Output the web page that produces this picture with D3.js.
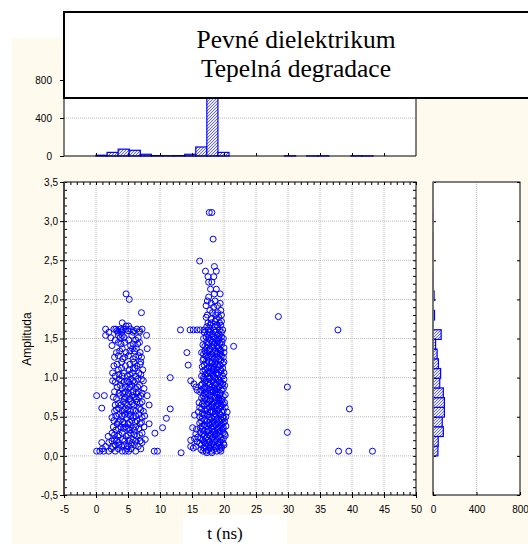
<!DOCTYPE html>
<html>
<head>
<meta charset="utf-8">
<script src="https://cdn.jsdelivr.net/npm/d3@7"></script>
<style>
  body { margin: 0; background: #fff; }
  svg { display: block; }
  .lab { font-family: "Liberation Sans", Arial, sans-serif; font-size: 10px; fill: #000; }
</style>
</head>
<body>
<svg width="528" height="544"></svg>
<script>
// ---- data ----
const timeTicks = [-5, 0, 5, 10, 15, 20, 25, 30, 35, 40, 45, 50];
const ampTicks = [-0.5, 0, 0.5, 1, 1.5, 2, 2.5, 3, 3.5];
const countTicks = [0, 400, 800];

// histogram of t (25 bins from 0)
const topBinWidth = 1.732;
const topHistCounts = [8, 38, 72, 60, 18, 4, 3, 4, 18, 95, 720, 38, 0, 0, 0, 0, 0, 2, 0, 1, 2, 0, 0, 2, 1];

// histogram of amplitude (25 bins from 0)
const sideBinWidth = 0.124;
const sideHistCounts = [45, 48, 95, 85, 105, 105, 95, 62, 70, 50, 38, 24, 75, 2, 14, 0, 10, 1, 1, 0, 1, 1, 1, 0, 2];

// scatter rows: [amplitude, [t values]]
const cluster1Rows = [
  [2.07, [4.7]], [2.00, [5.2]], [1.83, [7.1]], [1.70, [4.1]], [1.66, [4.7, 5.1]],
  [1.62, [1.5, 2.8, 3.1, 3.8, 4.3, 4.7, 5.4, 6.4, 7.2]], [1.60, [3.3, 4.0, 5.0, 5.9, 6.8]],
  [1.58, [2.0, 3.4, 4.0, 5.8, 6.8]], [1.54, [1.5, 3.5, 4.1, 5.6, 7.9]], [1.51, [2.3, 3.8, 4.4, 6.6]],
  [1.48, [3.0, 5.1, 6.2]], [1.45, [3.5, 4.5, 6.8]], [1.43, [3.9, 5.8, 6.5]], [1.41, [2.5, 5.4]],
  [1.37, [4.1, 5.7, 6.3, 8.0]], [1.34, [3.7, 5.3, 6.0]], [1.32, [3.2, 4.7, 6.9]],
  [1.28, [3.5, 5.1, 6.7]], [1.26, [2.9, 4.5, 6.2, 7.1]],
  [1.24, [4.2, 5.8]], [1.20, [4.0, 5.9, 7.0]], [1.17, [3.3, 5.3, 6.9]], [1.15, [2.8, 4.6, 6.4]],
  [1.12, [4.0, 5.8, 6.1]], [1.10, [3.5, 5.2, 7.3]], [1.06, [2.6, 4.3, 5.7, 6.7]],
  [1.04, [3.6, 5.3, 7.0]], [1.02, [3.0, 4.1, 4.9, 6.2]],
  [0.98, [3.6, 5.4, 6.5, 7.1]], [0.96, [2.6, 4.0, 4.8, 5.8, 7.4]], [0.94, [3.0, 4.4, 5.1, 6.0]],
  [0.90, [3.8, 5.6, 6.8]], [0.88, [3.3, 4.6, 5.3, 6.5]],
  [0.86, [4.1, 5.1, 6.2, 7.5]], [0.82, [2.9, 4.6, 5.8, 6.6]], [0.80, [3.6, 4.2, 5.1, 6.3, 7.2]],
  [0.77, [0.1, 1.3, 3.8, 4.9, 5.7, 7.0, 8.0]], [0.75, [2.7, 4.6, 6.0, 6.7]], [0.73, [3.2, 4.4, 5.3, 6.3]],
  [0.69, [4.3, 5.4, 6.4, 7.2]], [0.67, [3.5, 4.6, 5.7, 6.9]], [0.65, [3.0, 3.9, 4.9, 5.9, 8.3]],
  [0.61, [0.9, 3.5, 4.6, 6.8]], [0.59, [3.2, 4.4, 5.0, 5.8, 7.0]], [0.57, [2.9, 4.1, 5.4, 6.2, 7.4]],
  [0.53, [3.6, 4.5, 5.1, 6.7]], [0.51, [3.1, 4.1, 5.4, 6.2, 7.6]], [0.49, [2.5, 4.8, 5.8, 7.2]],
  [0.45, [2.8, 3.8, 5.6, 6.4]], [0.43, [3.5, 4.2, 5.3, 6.1, 7.1]], [0.41, [3.3, 4.4, 5.0, 6.9, 8.3]],
  [0.37, [2.7, 3.9, 4.6, 6.2, 7.5]], [0.35, [3.5, 4.3, 5.0, 5.7, 6.7]], [0.33, [3.1, 5.3, 6.0]],
  [0.29, [2.5, 4.1, 5.4, 7.2, 9.2]], [0.27, [2.9, 3.6, 5.0, 6.0, 6.8]], [0.25, [1.9, 3.4, 4.7, 6.4]],
  [0.21, [2.9, 4.2, 5.8, 7.7]], [0.19, [2.5, 3.2, 4.5, 5.2, 6.2, 6.9]], [0.17, [0.9, 2.0, 3.5, 5.6, 7.2]],
  [0.14, [3.0, 3.6, 4.4, 5.5, 6.0]], [0.12, [1.5, 2.6, 4.0, 4.9, 6.6]], [0.09, [1.0, 2.4, 3.5, 4.8, 5.5, 7.0]],
  [0.06, [0.1, 0.6, 1.2, 2.0, 3.0, 4.1, 4.6, 5.1, 6.2, 9.1, 9.6]]
];

const cluster2Rows = [
  [3.11, [17.7, 18.1]], [2.77, [18.3]], [2.49, [16.2]], [2.42, [18.5]],
  [2.36, [17.1, 18.8]], [2.29, [17.5, 18.4]], [2.22, [17.6, 18.1]],
  [2.13, [17.9, 18.8]], [2.07, [18.5, 19.4]], [2.03, [17.6]], [1.98, [17.4, 18.6]],
  [1.95, [18.0, 19.4]], [1.92, [17.2, 19.0]], [1.90, [18.4]], [1.86, [17.8, 19.5]], [1.83, [18.2, 19.0]],
  [1.80, [17.4, 18.7, 19.6]], [1.77, [17.2, 19.2]], [1.75, [18.0, 18.8]], [1.72, [18.6, 19.6]],
  [1.70, [17.5, 18.0, 19.3]], [1.67, [17.8, 18.9, 19.5]], [1.65, [17.3, 18.5, 19.0]],
  [1.61, [13.2, 14.7, 15.2, 15.8, 16.3, 16.9, 17.5, 17.9, 18.5, 19.3, 19.8]],
  [1.58, [16.9, 17.8, 18.7, 19.6]], [1.56, [17.4, 18.2, 19.1]], [1.54, [17.7, 18.9, 19.3]],
  [1.52, [17.2, 18.3, 19.6]], [1.50, [16.8, 17.6, 18.6, 19.2, 19.9]], [1.48, [17.9, 18.8]],
  [1.46, [17.3, 18.2, 19.0, 19.7]], [1.44, [17.6, 18.5, 19.3]], [1.42, [16.7, 17.4, 18.4, 19.6]],
  [1.40, [17.0, 18.1, 18.9, 21.5]], [1.38, [17.3, 18.4, 19.1, 20.0]], [1.36, [17.8, 19.4]],
  [1.34, [17.0, 17.7, 18.7, 19.5]], [1.32, [14.2, 16.5, 17.3, 18.3, 19.0, 20.0]],
  [1.30, [16.8, 18.0, 18.9, 19.4]], [1.28, [17.2, 17.9, 19.6]], [1.26, [17.6, 18.2, 19.0, 19.9]],
  [1.24, [16.8, 18.5, 19.2]], [1.22, [16.7, 17.3, 18.7, 19.5]], [1.20, [17.7, 18.2, 20.0]],
  [1.18, [17.3, 18.1, 18.6, 19.8]], [1.16, [14.4, 16.9, 18.8, 19.4]], [1.14, [16.6, 17.7, 18.4, 19.1]],
  [1.12, [17.4, 18.0, 19.8]], [1.10, [17.0, 18.3, 18.9, 19.5]], [1.08, [16.7, 17.6, 18.4, 19.5]],
  [1.06, [17.3, 17.9, 18.8, 20.0]], [1.04, [17.1, 18.2, 19.0]], [1.02, [16.5, 17.5, 18.4, 19.8]],
  [1.00, [11.6, 16.8, 17.7, 18.6, 19.4]], [0.98, [16.9, 17.7, 18.7, 19.1, 20.0]],
  [0.96, [14.8, 17.2, 18.3, 19.3]], [0.94, [17.0, 17.5, 18.4, 19.5]],
  [0.92, [15.3, 16.6, 17.8, 18.8, 19.8]], [0.90, [16.4, 17.6, 18.6, 19.6, 20.1]],
  [0.88, [15.6, 17.0, 18.1, 19.2]], [0.86, [16.8, 17.4, 18.5, 18.9, 19.9]],
  [0.84, [15.8, 16.4, 17.9, 18.6, 19.6]], [0.82, [16.2, 17.2, 18.3, 19.0]],
  [0.80, [16.9, 17.5, 18.8, 19.4]], [0.78, [17.2, 17.8, 18.9, 19.4, 20.2]],
  [0.76, [16.8, 18.0, 18.4, 19.9]], [0.74, [16.5, 17.0, 18.6, 19.2]],
  [0.72, [17.3, 17.9, 19.1, 19.7]], [0.70, [16.8, 17.8, 18.9, 19.6]],
  [0.68, [16.1, 17.5, 18.4, 19.3, 20.1]], [0.66, [16.6, 17.3, 18.2, 19.1, 19.9]],
  [0.64, [16.9, 18.1, 18.8, 19.6]], [0.62, [16.2, 17.7, 18.4, 19.5, 20.2]],
  [0.60, [11.6, 16.5, 17.3, 18.6, 19.2]], [0.58, [17.1, 18.0, 18.9, 19.9]],
  [0.56, [16.0, 17.8, 18.3, 19.7, 20.5]], [0.54, [16.6, 17.3, 18.6, 19.3]],
  [0.52, [15.4, 16.9, 17.5, 18.8, 19.5]], [0.50, [16.2, 17.7, 18.5, 19.8, 20.3]],
  [0.48, [11.0, 16.6, 18.1, 19.0, 20.0]], [0.46, [17.0, 17.8, 18.8, 19.6]],
  [0.44, [16.5, 17.3, 18.4, 19.3, 20.1]], [0.42, [16.2, 17.6, 18.2, 19.0, 19.9]],
  [0.40, [16.9, 17.8, 18.7, 19.6]], [0.38, [16.6, 17.3, 18.4, 19.4, 20.3]],
  [0.36, [10.4, 15.1, 16.3, 18.0, 19.1, 19.9]], [0.34, [15.7, 16.6, 17.5, 18.2, 18.9, 19.8]],
  [0.32, [16.9, 17.6, 18.5, 19.4]], [0.30, [16.3, 17.3, 18.3, 19.2, 19.9]],
  [0.28, [15.6, 16.7, 18.0, 18.8, 20.1]], [0.26, [16.9, 17.8, 18.6, 19.3, 20.2]],
  [0.24, [15.9, 17.3, 18.3, 19.5]], [0.22, [15.4, 16.4, 17.1, 18.1, 19.0, 19.9]],
  [0.20, [14.8, 16.7, 17.5, 18.5, 19.6]], [0.18, [15.8, 16.9, 17.7, 18.6, 19.4]],
  [0.16, [16.2, 17.1, 18.1, 19.1, 19.9]], [0.14, [16.5, 17.6, 18.4, 19.3, 20.0]],
  [0.12, [14.8, 15.6, 17.2, 17.9, 18.8, 19.6]], [0.10, [15.2, 16.9, 17.8, 18.7, 19.6]],
  [0.08, [16.4, 17.5, 18.4, 19.3]], [0.06, [16.7, 17.2, 18.0, 18.9, 19.5]],
  [0.04, [13.3, 17.3, 18.1]]
];

// isolated points [t, amplitude]
const outlierPoints = [
  [28.5, 1.78], [29.9, 0.88], [29.9, 0.30], [37.8, 1.61],
  [37.9, 0.06], [39.5, 0.06], [39.6, 0.60], [43.2, 0.06]
];

const scatterPoints = cluster1Rows.concat(cluster2Rows)
  .flatMap(([a, ts]) => ts.map(t => ({t: t, a: a})))
  .concat(outlierPoints.map(([t, a]) => ({t: t, a: a})));

// ---- layout ----
const svg = d3.select("svg");
const blue = "#0000ff";
const gridColor = "#b8b8b8";
const comma = d => d3.format(".1f")(d).replace(".", ",").replace("\u2212", "-");
const plain = d => String(d);

const x = d3.scaleLinear().domain([-5, 50]).range([64, 416]);
const y = d3.scaleLinear().domain([-0.5, 3.5]).range([495, 182]);
const yTop = d3.scaleLinear().domain([0, 1200]).range([156, 42]);
const xSide = d3.scaleLinear().domain([0, 800]).range([433, 520]);

// hatch fill for histogram bars
const defs = svg.append("defs");
const pat = defs.append("pattern")
  .attr("id", "hatch")
  .attr("patternUnits", "userSpaceOnUse")
  .attr("width", 3).attr("height", 3);
pat.append("rect").attr("width", 3).attr("height", 3).attr("fill", "#eeeeff");
pat.append("path").attr("d", "M-1,1 L1,-1 M0,3 L3,0 M2,4 L4,2")
  .attr("stroke", "#5555ff").attr("stroke-width", 0.9);

// cream page background
svg.append("rect").attr("x", 12).attr("y", 38).attr("width", 516).attr("height", 506)
  .attr("fill", "#fffaee");

// ---------- top histogram ----------
const gTop = svg.append("g");
gTop.append("rect")
  .attr("x", x(-5)).attr("y", yTop(1200))
  .attr("width", x(50) - x(-5)).attr("height", yTop(0) - yTop(1200))
  .attr("fill", "#fff");

gTop.selectAll(".grid").data(countTicks.slice(1)).enter().append("line")
  .attr("x1", x(-5)).attr("x2", x(50))
  .attr("y1", d => yTop(d)).attr("y2", d => yTop(d))
  .attr("stroke", gridColor).attr("stroke-dasharray", "1,1");

const topBins = topHistCounts.map((c, i) => ({x0: i * topBinWidth, x1: (i + 1) * topBinWidth, c: c}))
  .filter(d => d.c > 0);
gTop.selectAll(".bar").data(topBins).enter().append("rect")
  .attr("x", d => x(d.x0))
  .attr("width", d => x(d.x1) - x(d.x0))
  .attr("y", d => yTop(d.c))
  .attr("height", d => yTop(0) - yTop(d.c))
  .attr("fill", "url(#hatch)")
  .attr("stroke", blue).attr("stroke-width", 1.2);

gTop.append("g")
  .attr("transform", `translate(0, ${yTop(0)})`)
  .call(d3.axisTop(x).tickValues(timeTicks.slice(1, -1)).tickSize(3).tickFormat(""))
  .call(g => g.select(".domain").remove());

gTop.append("path")
  .attr("d", `M${x(-5)},${yTop(1200)} V${yTop(0)} H${x(50)} V${yTop(1200)}`)
  .attr("fill", "none").attr("stroke", "#000");

gTop.append("g")
  .attr("transform", `translate(${x(-5)}, 0)`)
  .call(d3.axisLeft(yTop).tickValues(countTicks).tickSize(4).tickPadding(8).tickFormat(plain))
  .call(g => g.select(".domain").remove())
  .selectAll("text").attr("class", "lab");

// ---------- scatter ----------
const gS = svg.append("g");
gS.append("rect")
  .attr("x", x(-5)).attr("y", y(3.5))
  .attr("width", x(50) - x(-5)).attr("height", y(-0.5) - y(3.5))
  .attr("fill", "#fff");

gS.selectAll(".vgrid").data(timeTicks.slice(1, -1)).enter().append("line")
  .attr("x1", d => x(d)).attr("x2", d => x(d))
  .attr("y1", y(3.5)).attr("y2", y(-0.5))
  .attr("stroke", gridColor).attr("stroke-dasharray", "1,1");
gS.selectAll(".hgrid").data(ampTicks.slice(1, -1)).enter().append("line")
  .attr("x1", x(-5)).attr("x2", x(50))
  .attr("y1", d => y(d)).attr("y2", d => y(d))
  .attr("stroke", gridColor).attr("stroke-dasharray", "1,1");

gS.selectAll("circle").data(scatterPoints).enter().append("circle")
  .attr("cx", d => x(d.t))
  .attr("cy", d => y(d.a))
  .attr("r", 3)
  .attr("fill", "none")
  .attr("stroke", blue)
  .attr("stroke-width", 1);

const minorT = d3.range(-5, 50.01, 1);
const minorA = d3.range(-0.5, 3.501, 0.1);

// inward minor ticks on all four sides
gS.append("g").attr("transform", `translate(0, ${y(-0.5)})`)
  .call(d3.axisTop(x).tickValues(minorT).tickSize(3).tickFormat(""))
  .call(g => g.select(".domain").remove());
gS.append("g").attr("transform", `translate(0, ${y(3.5)})`)
  .call(d3.axisBottom(x).tickValues(minorT).tickSize(3).tickFormat(""))
  .call(g => g.select(".domain").remove());
gS.append("g").attr("transform", `translate(${x(-5)}, 0)`)
  .call(d3.axisRight(y).tickValues(minorA).tickSize(3).tickFormat(""))
  .call(g => g.select(".domain").remove());
gS.append("g").attr("transform", `translate(${x(50)}, 0)`)
  .call(d3.axisLeft(y).tickValues(minorA).tickSize(3).tickFormat(""))
  .call(g => g.select(".domain").remove());

gS.append("rect")
  .attr("x", x(-5)).attr("y", y(3.5))
  .attr("width", x(50) - x(-5)).attr("height", y(-0.5) - y(3.5))
  .attr("fill", "none").attr("stroke", "#000");
gS.append("line")
  .attr("x1", x(-5)).attr("x2", x(-5)).attr("y1", y(3.5)).attr("y2", y(-0.5))
  .attr("stroke", "#444").attr("stroke-width", 1.8);

gS.append("g")
  .attr("transform", `translate(${x(-5)}, 0)`)
  .call(d3.axisLeft(y).tickValues(ampTicks).tickSize(4).tickPadding(2).tickFormat(comma))
  .call(g => g.select(".domain").remove())
  .selectAll("text").attr("class", "lab");

gS.append("g")
  .attr("transform", `translate(0, ${y(-0.5)})`)
  .call(d3.axisBottom(x).tickValues(timeTicks).tickSize(3).tickPadding(8).tickFormat(plain))
  .call(g => g.select(".domain").remove())
  .selectAll("text").attr("class", "lab");

gS.append("text")
  .attr("class", "lab")
  .attr("transform", `translate(31, 339) rotate(-90)`)
  .attr("text-anchor", "middle")
  .style("font-size", "12px")
  .text("Amplituda");

// ---------- side histogram ----------
const gR = svg.append("g");
gR.append("rect")
  .attr("x", xSide(0)).attr("y", y(3.5))
  .attr("width", xSide(800) - xSide(0)).attr("height", y(-0.5) - y(3.5))
  .attr("fill", "#fff");

gR.selectAll(".grid").data([400]).enter().append("line")
  .attr("x1", d => xSide(d)).attr("x2", d => xSide(d))
  .attr("y1", y(3.5)).attr("y2", y(-0.5))
  .attr("stroke", gridColor).attr("stroke-dasharray", "1,1");

const sideBins = sideHistCounts.map((c, i) => ({y0: i * sideBinWidth, y1: (i + 1) * sideBinWidth, c: c}))
  .filter(d => d.c > 0);
gR.selectAll(".bar").data(sideBins).enter().append("rect")
  .attr("x", xSide(0))
  .attr("width", d => xSide(d.c) - xSide(0))
  .attr("y", d => y(d.y1))
  .attr("height", d => y(d.y0) - y(d.y1))
  .attr("fill", "url(#hatch)")
  .attr("stroke", blue).attr("stroke-width", 1.2);

gR.append("g").attr("transform", `translate(${xSide(800)}, 0)`)
  .call(d3.axisLeft(y).tickValues(ampTicks).tickSize(3).tickFormat(""))
  .call(g => g.select(".domain").remove());
gR.append("g").attr("transform", `translate(${xSide(0)}, 0)`)
  .call(d3.axisRight(y).tickValues(ampTicks).tickSize(3).tickFormat(""))
  .call(g => g.select(".domain").remove());

gR.append("rect")
  .attr("x", xSide(0)).attr("y", y(3.5))
  .attr("width", xSide(800) - xSide(0)).attr("height", y(-0.5) - y(3.5))
  .attr("fill", "none").attr("stroke", "#000");
gR.append("line")
  .attr("x1", xSide(0)).attr("x2", xSide(0)).attr("y1", y(3.5)).attr("y2", y(-0.5))
  .attr("stroke", "#777").attr("stroke-width", 1.8);

gR.append("g")
  .attr("transform", `translate(0, ${y(-0.5)})`)
  .call(d3.axisTop(xSide).tickValues(countTicks).tickSize(3).tickFormat(""))
  .call(g => g.select(".domain").remove());
gR.append("g")
  .attr("transform", `translate(0, ${y(-0.5)})`)
  .call(d3.axisBottom(xSide).tickValues(countTicks).tickSize(0).tickPadding(11).tickFormat(plain))
  .call(g => g.select(".domain").remove())
  .selectAll("text").attr("class", "lab");

// ---------- title box ----------
svg.append("rect")
  .attr("x", 64).attr("y", 12).attr("width", 480).attr("height", 86)
  .attr("fill", "#fff").attr("stroke", "#000").attr("stroke-width", 2);
const title = svg.append("text")
  .attr("text-anchor", "middle")
  .attr("font-family", "'Liberation Serif', 'Times New Roman', serif")
  .attr("font-size", "25.5px");
title.append("tspan").attr("x", 296).attr("y", 48).text("Pevné dielektrikum");
title.append("tspan").attr("x", 296).attr("y", 77).text("Tepelná degradace");

// ---------- x label ----------
svg.append("rect").attr("x", 183).attr("y", 515).attr("width", 104).attr("height", 29).attr("fill", "#fff");
svg.append("text")
  .attr("x", 225).attr("y", 539)
  .attr("text-anchor", "middle")
  .attr("font-family", "'Liberation Serif', 'Times New Roman', serif")
  .attr("font-size", "17px")
  .text("t (ns)");
</script>
</body>
</html>
